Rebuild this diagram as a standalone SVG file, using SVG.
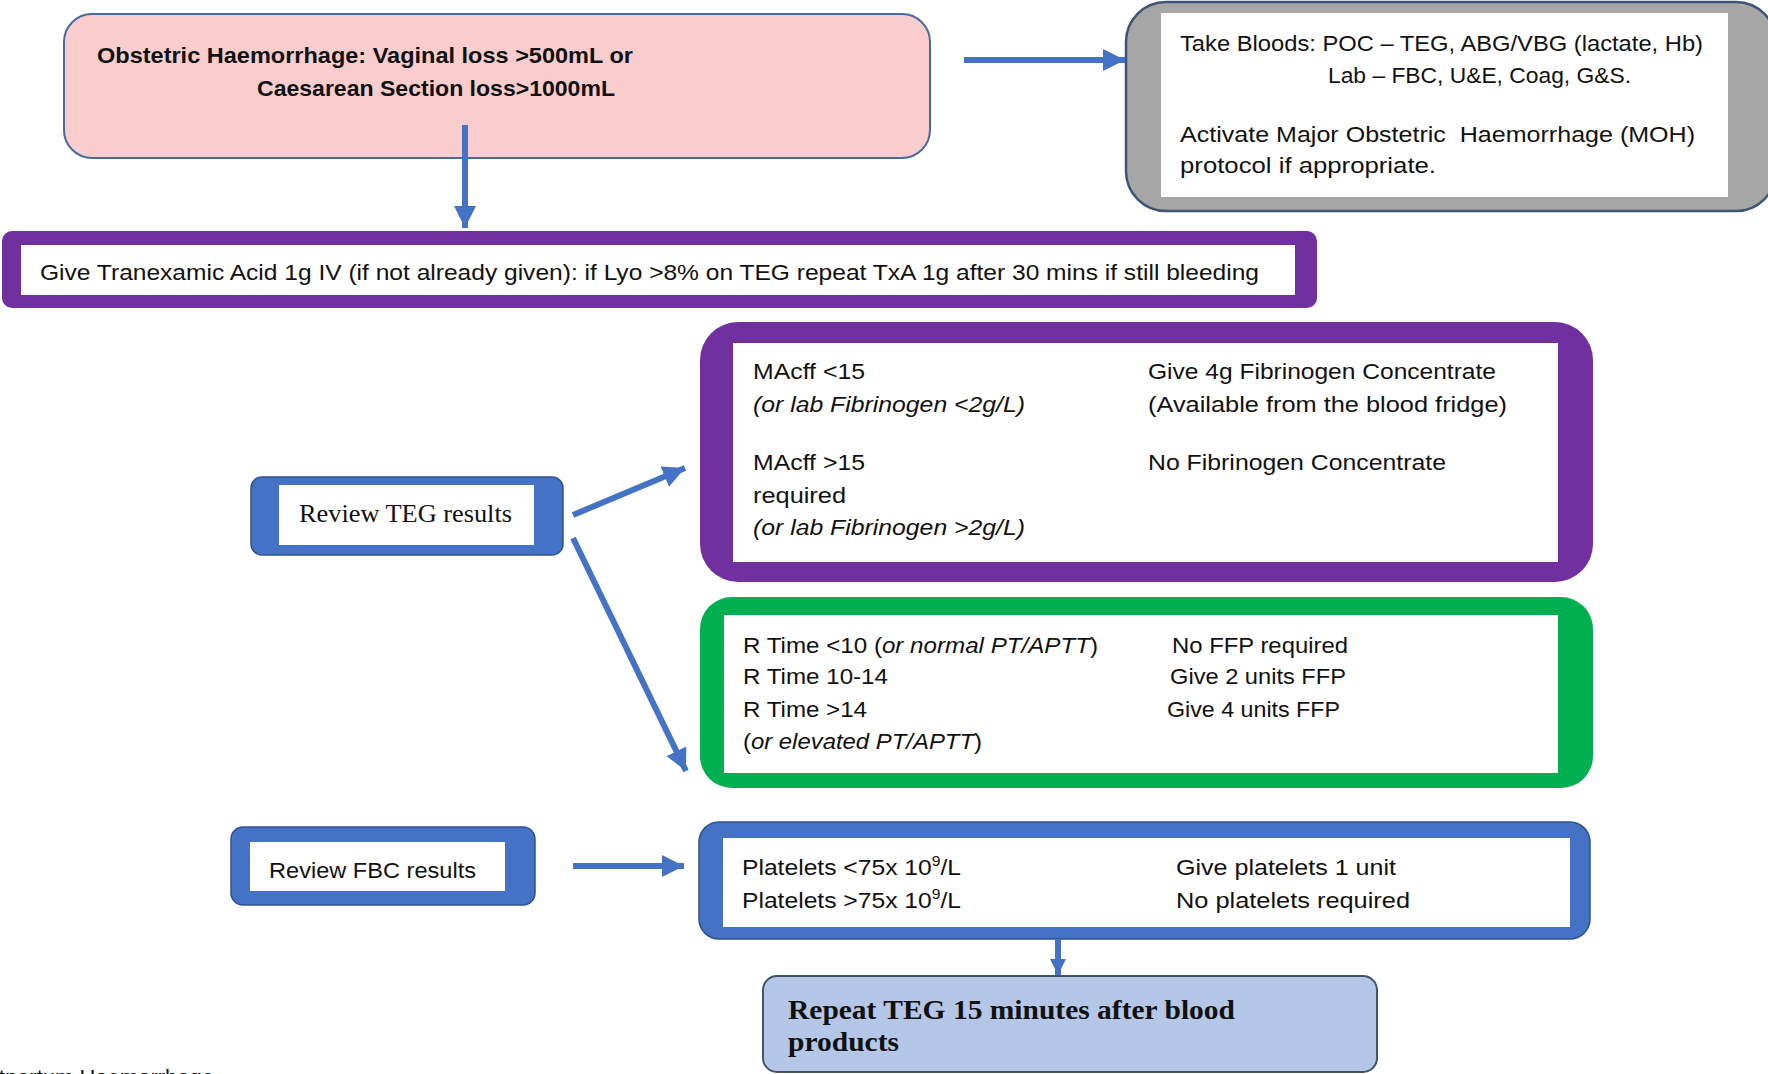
<svg xmlns="http://www.w3.org/2000/svg" width="1768" height="1074" viewBox="0 0 1768 1074">
<defs>
<marker id="ah" markerUnits="userSpaceOnUse" markerWidth="24" markerHeight="24" refX="22" refY="11" orient="auto"><path d="M0,0 L22,11 L0,22 Z" fill="#4472C4"/></marker>
<marker id="ahs" markerUnits="userSpaceOnUse" markerWidth="18" markerHeight="18" refX="16" refY="8" orient="auto"><path d="M0,0 L16,8 L0,16 Z" fill="#4472C4"/></marker>
</defs>
<style>
.t{font-family:"Liberation Sans",Arial,sans-serif;font-size:22px;fill:#111}
.b{font-weight:bold}
.i{font-style:italic}
.s{font-family:"Liberation Serif","Times New Roman",serif;fill:#111}
.arr{stroke:#4472C4;stroke-width:6;fill:none}
.white{fill:#fff}
</style>
<rect width="1768" height="1074" fill="#fff"/>

<g id="node-haemorrhage">
<rect x="64" y="14" width="866" height="144" rx="28" fill="#F9CDCD" stroke="#4A6A9E" stroke-width="2"/>
<text class="t b" x="97" y="63" font-size="23" textLength="536" lengthAdjust="spacingAndGlyphs">Obstetric Haemorrhage: Vaginal loss &gt;500mL or</text>
<text class="t b" x="257" y="96" font-size="23" textLength="358" lengthAdjust="spacingAndGlyphs">Caesarean Section loss&gt;1000mL</text>
</g>

<g id="node-bloods">
<rect x="1126" y="2" width="650" height="209" rx="40" fill="#A6A6A6" stroke="#3F5573" stroke-width="2.5"/>
<rect x="1161" y="13" width="567" height="184" class="white"/>
<text class="t" x="1180" y="51" textLength="523" lengthAdjust="spacingAndGlyphs">Take Bloods: POC – TEG, ABG/VBG (lactate, Hb)</text>
<text class="t" x="1328" y="83" textLength="303" lengthAdjust="spacingAndGlyphs">Lab – FBC, U&amp;E, Coag, G&amp;S.</text>
<text class="t" x="1180" y="142" textLength="515" lengthAdjust="spacingAndGlyphs" xml:space="preserve">Activate Major Obstetric  Haemorrhage (MOH)</text>
<text class="t" x="1180" y="173" textLength="256" lengthAdjust="spacingAndGlyphs">protocol if appropriate.</text>
</g>

<g id="node-txa">
<rect x="2" y="231" width="1315" height="77" rx="10" fill="#7030A0"/>
<rect x="21" y="245" width="1274" height="50" class="white"/>
<text class="t" x="40" y="280" font-size="23" textLength="1219" lengthAdjust="spacingAndGlyphs">Give Tranexamic Acid 1g IV (if not already given): if Lyo &gt;8% on TEG repeat TxA 1g after 30 mins if still bleeding</text>
</g>

<g id="node-review-teg">
<rect x="251" y="477" width="312" height="78" rx="11" fill="#4472C4" stroke="#2F528F" stroke-width="1.5"/>
<rect x="279" y="485" width="255" height="60" class="white"/>
<text class="s" x="299" y="522" font-size="25" textLength="213" lengthAdjust="spacingAndGlyphs">Review TEG results</text>
</g>

<g id="node-fibrinogen">
<rect x="700" y="322" width="893" height="260" rx="38" fill="#7030A0"/>
<rect x="733" y="343" width="825" height="219" class="white"/>
<text class="t" x="753" y="379" textLength="112" lengthAdjust="spacingAndGlyphs">MAcff &lt;15</text>
<text class="t i" x="753" y="412" textLength="272" lengthAdjust="spacingAndGlyphs">(or lab Fibrinogen &lt;2g/L)</text>
<text class="t" x="753" y="470" textLength="112" lengthAdjust="spacingAndGlyphs">MAcff &gt;15</text>
<text class="t" x="753" y="503" textLength="93" lengthAdjust="spacingAndGlyphs">required</text>
<text class="t i" x="753" y="535" textLength="272" lengthAdjust="spacingAndGlyphs">(or lab Fibrinogen &gt;2g/L)</text>
<text class="t" x="1148" y="379" textLength="348" lengthAdjust="spacingAndGlyphs">Give 4g Fibrinogen Concentrate</text>
<text class="t" x="1148" y="412" textLength="359" lengthAdjust="spacingAndGlyphs">(Available from the blood fridge)</text>
<text class="t" x="1148" y="470" textLength="298" lengthAdjust="spacingAndGlyphs">No Fibrinogen Concentrate</text>
</g>

<g id="node-ffp">
<rect x="700" y="597" width="893" height="191" rx="32" fill="#00B050"/>
<rect x="724" y="615" width="834" height="158" class="white"/>
<text class="t" x="743" y="653" textLength="355" lengthAdjust="spacingAndGlyphs">R Time &lt;10 (<tspan class="i">or normal PT/APTT</tspan>)</text>
<text class="t" x="743" y="684" textLength="145" lengthAdjust="spacingAndGlyphs">R Time 10-14</text>
<text class="t" x="743" y="717" textLength="124" lengthAdjust="spacingAndGlyphs">R Time &gt;14</text>
<text class="t" x="743" y="749" textLength="239" lengthAdjust="spacingAndGlyphs">(<tspan class="i">or elevated PT/APTT</tspan>)</text>
<text class="t" x="1172" y="653" textLength="176" lengthAdjust="spacingAndGlyphs">No FFP required</text>
<text class="t" x="1170" y="684" textLength="176" lengthAdjust="spacingAndGlyphs">Give 2 units FFP</text>
<text class="t" x="1167" y="717" textLength="173" lengthAdjust="spacingAndGlyphs">Give 4 units FFP</text>
</g>

<g id="node-review-fbc">
<rect x="231" y="827" width="304" height="78" rx="12" fill="#4472C4" stroke="#2F528F" stroke-width="1.5"/>
<rect x="250" y="842" width="255" height="49" class="white"/>
<text class="t" x="269" y="878" textLength="207" lengthAdjust="spacingAndGlyphs">Review FBC results</text>
</g>

<g id="node-platelets">
<rect x="699" y="822" width="891" height="117" rx="20" fill="#4472C4" stroke="#2F528F" stroke-width="1.5"/>
<rect x="723" y="838" width="847" height="89" class="white"/>
<text class="t" x="742" y="875" font-size="23" textLength="219" lengthAdjust="spacingAndGlyphs">Platelets &lt;75x 10<tspan dy="-9" font-size="14">9</tspan><tspan dy="9">/L</tspan></text>
<text class="t" x="742" y="908" font-size="23" textLength="219" lengthAdjust="spacingAndGlyphs">Platelets &gt;75x 10<tspan dy="-9" font-size="14">9</tspan><tspan dy="9">/L</tspan></text>
<text class="t" x="1176" y="875" textLength="220" lengthAdjust="spacingAndGlyphs">Give platelets 1 unit</text>
<text class="t" x="1176" y="908" textLength="234" lengthAdjust="spacingAndGlyphs">No platelets required</text>
</g>

<g id="node-repeat">
<rect x="763" y="976" width="614" height="96" rx="14" fill="#B4C7E7" stroke="#44546A" stroke-width="2"/>
<text class="s b" x="788" y="1019" font-size="27" textLength="447" lengthAdjust="spacingAndGlyphs">Repeat TEG 15 minutes after blood</text>
<text class="s b" x="788" y="1051" font-size="27" textLength="111" lengthAdjust="spacingAndGlyphs">products</text>
</g>

<g id="connectors">
<line class="arr" x1="465" y1="125" x2="465" y2="228" marker-end="url(#ah)"/>
<line class="arr" x1="964" y1="60" x2="1125" y2="60" marker-end="url(#ah)"/>
<line class="arr" x1="573" y1="515" x2="685" y2="468" marker-end="url(#ah)"/>
<line class="arr" x1="573" y1="538" x2="686" y2="771" marker-end="url(#ah)"/>
<line class="arr" x1="573" y1="866" x2="684" y2="866" marker-end="url(#ah)"/>
<line class="arr" x1="1058" y1="939" x2="1058" y2="975" marker-end="url(#ahs)"/>
</g>

<text class="t" x="214" y="1085" font-size="20.5" text-anchor="end">Postpartum Haemorrhage</text>
</svg>
